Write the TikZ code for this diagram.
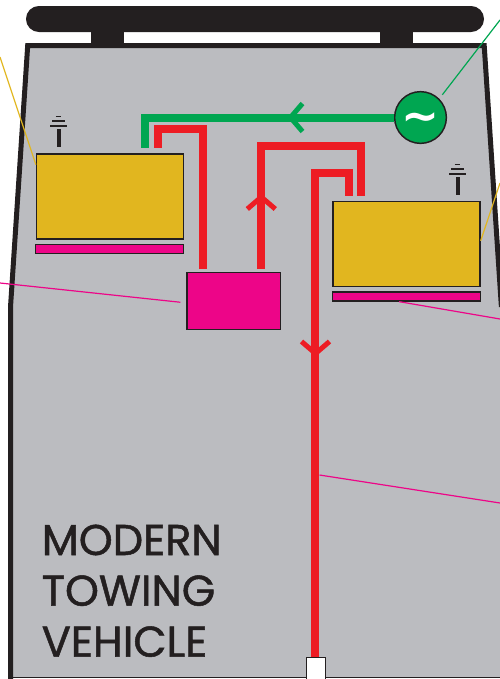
\documentclass[tikz,border=0pt]{standalone}
\usepackage{fontspec}
\newfontfamily\vehiclefont[FakeBold=1.2]{Poppins}
\newfontfamily\tildefont{DejaVu Sans}
\definecolor{bodygrey}{RGB}{187,188,192}
\definecolor{framedark}{RGB}{35,31,32}
\definecolor{battgold}{RGB}{225,182,31}
\definecolor{ctrlpink}{RGB}{237,5,136}
\definecolor{wirered}{RGB}{237,28,36}
\definecolor{wiregreen}{RGB}{0,166,81}
\tikzset{
	battery/.style={draw=framedark,line width=1.1pt,fill=battgold,inner sep=0pt,minimum width=110.2pt,minimum height=63.75pt},
	charger/.style={draw=framedark,line width=1.1pt,fill=ctrlpink,inner sep=0pt,minimum width=111pt,minimum height=6.6pt},
	controlbox/.style={draw=framedark,line width=1.1pt,fill=ctrlpink,inner sep=0pt,minimum width=69.9pt,minimum height=42.6pt},
	redwire/.style={draw=wirered,line width=6pt},
	greenwire/.style={draw=wiregreen,line width=6pt},
	redbarb/.style={draw=wirered,line width=3.75pt},
	greenbarb/.style={draw=wiregreen,line width=3.75pt},
	pinklead/.style={draw=ctrlpink,line width=0.9pt},
	goldlead/.style={draw=battgold,line width=0.9pt},
	greenlead/.style={draw=wiregreen,line width=0.9pt},
	vehicletext/.style={anchor=base west,inner sep=0pt,text=framedark,font=\vehiclefont\fontsize{32.3}{33}\selectfont}
}

\begin{document}
\begin{tikzpicture}[x=0.75pt,y=0.75pt,yscale=-1,xscale=1]
	\useasboundingbox (0,0) rectangle (500,679);
	
	%Vehicle body
	\fill [bodygrey] (27.7,45.5) -- (10.5,307) -- (10.5,677.7) -- (501.4,677.7) -- (501.4,307) -- (484.2,45.5) -- cycle ;
	\draw [framedark, line width=3.75pt, miter limit=10] (10.5,679) -- (10.5,307) -- (27.7,45.5) -- (484.2,45.5) -- (501.4,307) ;
	\draw [framedark, line width=0.75pt] (10.5,677.7) -- (501.4,677.7) ;
	%Roof bar and posts
	\fill [framedark, rounded corners=9.7pt] (26,6) rectangle (484,32) ;
	\fill [framedark] (91,30) rectangle (124,45) ;
	\fill [framedark] (380,30) rectangle (413,45) ;
	
	%Units
	\node (battL) [battery] at (110.1,196.5) {};
	\node (chargeL) [charger] at (109.7,249) {};
	\node (battR) [battery] at (406.5,244.2) {};
	\node (chargeR) [charger] at (406.5,296.5) {};
	\node (ctrl) [controlbox] at (233.65,301.15) {};
	\node (socket) [draw=framedark,line width=0.9pt,fill=white,inner sep=0pt,minimum width=14.3pt,minimum height=18pt,anchor=north] at (316,657) {};
	
	%Corners of the wires
	\coordinate (cornerA) at (180,129.2);
	\coordinate (cornerB) at (310,146.3);
	\coordinate (cornerC) at (330,173);
	
	%Wires
	\draw [redwire, shorten <=2.25pt, shorten >=4pt] ([xshift=-22.9pt]ctrl.north) |- (cornerA) -| ([xshift=35.7pt]battL.north) ;
	\draw [redwire, shorten <=2.25pt, shorten >=3.75pt] ([xshift=20.6pt]ctrl.north) |- (cornerB) -| ([xshift=-34.35pt]battR.north) ;
	\draw [redwire, shorten >=3.75pt] ([xshift=-0.4pt]socket.north) |- (cornerC) -| ([xshift=-43.1pt]battR.north) ;
	\node (gen) [circle,draw=framedark,line width=1.1pt,fill=wiregreen,text=white,inner sep=0pt,minimum size=38.8pt,font=\tildefont\bfseries\fontsize{34}{34}\selectfont] at (420.5,117.5) {\raisebox{-10.5pt}[0pt][0pt]{\char"223C}};
	\draw [greenwire, shorten >=4pt] (gen.west) -| ([xshift=26.2pt]battL.north) ;
	
	%Arrow heads on the wires
	\draw [greenbarb, shift={(290.5,117.5)}] (12,-14) -- (0,0) -- (12,14) ;
	\draw [redbarb, shift={(261.3,197)}] (-14,12) -- (0,0) -- (14,12) ;
	\draw [redbarb, shift={(315.5,353.5)}] (-14,-12) -- (0,0) -- (14,-12) ;
	
	%Terminals on the batteries
	\foreach \tx/\ty in {58.6/129,457.5/177} {
		\draw [framedark, line width=3pt] (\tx,\ty) -- (\tx,\ty+18) ;
		\draw [framedark, line width=1.5pt] (\tx-8.2,\ty-3) -- (\tx+8.2,\ty-3) ;
		\draw [framedark, line width=1.1pt] (\tx-6.2,\ty-8) -- (\tx+6.2,\ty-8) ;
		\draw [framedark, line width=1.1pt] (\tx-2.8,\ty-12.5) -- (\tx+2.8,\ty-12.5) ;
	}
	
	%Lead lines
	\coordinate (leadA) at (0,57);
	\coordinate (leadB) at (0,283);
	\coordinate (leadC) at (500,20);
	\coordinate (leadD) at (500,183);
	\coordinate (leadE) at (500,319);
	\coordinate (leadF) at (500,503);
	\coordinate (leadG) at (319.5,475);
	\draw [goldlead] (leadA) -- ([yshift=8.6pt]battL.north west) ;
	\draw [pinklead, shorten >=4.5pt] (leadB) -- ([yshift=1.3pt]ctrl.west) ;
	\draw [greenlead, shorten <=3.7pt] (gen.north east) -- (leadC) ;
	\draw [goldlead] ([yshift=-2.6pt]battR.east) -- (leadD) ;
	\draw [pinklead] ([xshift=-5.6pt]chargeR.south) -- (leadE) ;
	\draw [pinklead] (leadG) -- (leadF) ;
	
	% Text Node
	\node (textA) [vehicletext] at (41.5,555) {MODERN};
	% Text Node
	\node (textB) [vehicletext] at (41.5,605.7) {TOWING};
	% Text Node
	\node (textC) [vehicletext] at (41.5,656.7) {VEHICLE};
	
\end{tikzpicture}
\end{document}
